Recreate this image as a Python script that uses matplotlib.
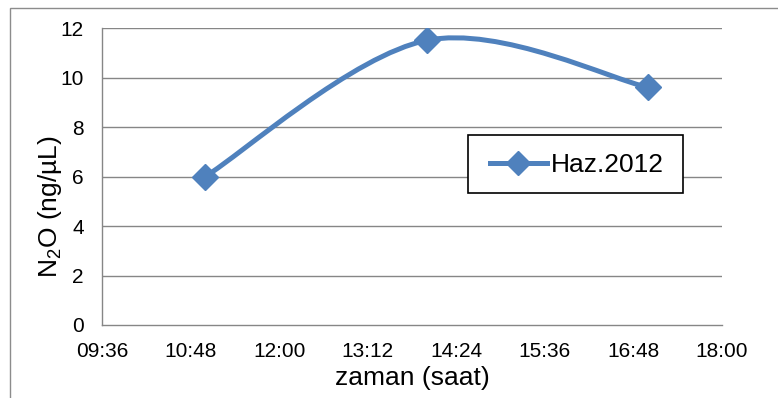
import numpy as np
import matplotlib
matplotlib.use('Agg')
import matplotlib.pyplot as plt
from matplotlib.path import Path
from matplotlib.patches import PathPatch, Rectangle
from matplotlib.lines import Line2D

plt.rcParams['font.family'] = ['Liberation Sans', 'DejaVu Sans']
plt.rcParams['mathtext.default'] = 'regular'

#%% data

times = [11.0, 14.0, 17.0]          # hours
values = [6.0, 11.5, 9.6]
series_name = 'Haz.2012'
xticks = [9.6, 10.8, 12.0, 13.2, 14.4, 15.6, 16.8, 18.0]
xtick_labels = ['09:36', '10:48', '12:00', '13:12', '14:24', '15:36', '16:48', '18:00']
yticks = [0, 2, 4, 6, 8, 10, 12]

blue = '#4F81BD'
grid = '#868686'

#%% excel-like smoothed line (bezier through the points)

def smooth_path(xs, ys):
    p = np.column_stack([xs, ys])
    pts = np.vstack([p[0], p, p[-1]])
    verts = [p[0]]
    codes = [Path.MOVETO]
    for i in range(1, len(pts) - 2):
        c1 = pts[i] + (pts[i + 1] - pts[i - 1]) / 6
        c2 = pts[i + 1] - (pts[i + 2] - pts[i]) / 6
        verts += [c1, c2, pts[i + 1]]
        codes += [Path.CURVE4] * 3
    return Path(verts, codes)

#%% plot

fig = plt.figure(figsize=(7.78, 3.98), dpi=100)
fig.patches.append(Rectangle((10 / 778, -0.1), 1.2, 1 - 8 / 398 + 0.1,
                             transform=fig.transFigure, fill=False,
                             edgecolor='#8c8c8c', linewidth=1.0))

ax = fig.add_axes([102 / 778, 73 / 398, 620 / 778, 297 / 398])
ax.set_xlim(9.6, 18.0)
ax.set_ylim(0, 12)

for y in yticks[1:]:
    ax.axhline(y, color=grid, linewidth=1.0, zorder=1)

ax.add_patch(PathPatch(smooth_path(times, values), facecolor='none',
                       edgecolor=blue, linewidth=3.6, zorder=3,
                       capstyle='round', joinstyle='round'))
ax.plot(times, values, linestyle='none', marker='D', markersize=13,
        color=blue, zorder=4)

ax.set_xticks(xticks)
ax.set_xticklabels(xtick_labels)
ax.set_yticks(yticks)
ax.tick_params(axis='x', length=0, pad=12, labelsize=15)
ax.tick_params(axis='y', length=0, pad=13, labelsize=15)

for s in ['top', 'right']:
    ax.spines[s].set_visible(False)
for s in ['left', 'bottom']:
    ax.spines[s].set_color(grid)
    ax.spines[s].set_linewidth(1.0)

ax.set_xlabel('zaman (saat)', fontsize=19, labelpad=4)
ax.set_ylabel('N$_2$O (ng/µL)', fontsize=19)
ax.yaxis.set_label_coords(-0.062, 0.40)

# legend: frame drawn as its own box, entry placed inside
fig.patches.append(Rectangle((468 / 778, 1 - 193 / 398), 215 / 778, 58 / 398,
                             transform=fig.transFigure, facecolor='white',
                             edgecolor='black', linewidth=1.2, zorder=5))
handle = Line2D([], [], color=blue, linewidth=3.6, marker='D', markersize=12)
leg = fig.legend([handle], [series_name], loc='center left',
                 bbox_to_anchor=(490 / 778, 1 - 165 / 398),
                 fontsize=19, frameon=False, borderpad=0,
                 handlelength=2.15, handletextpad=0.15, borderaxespad=0)
leg.set_zorder(6)

fig.savefig('out.png', dpi=100)
